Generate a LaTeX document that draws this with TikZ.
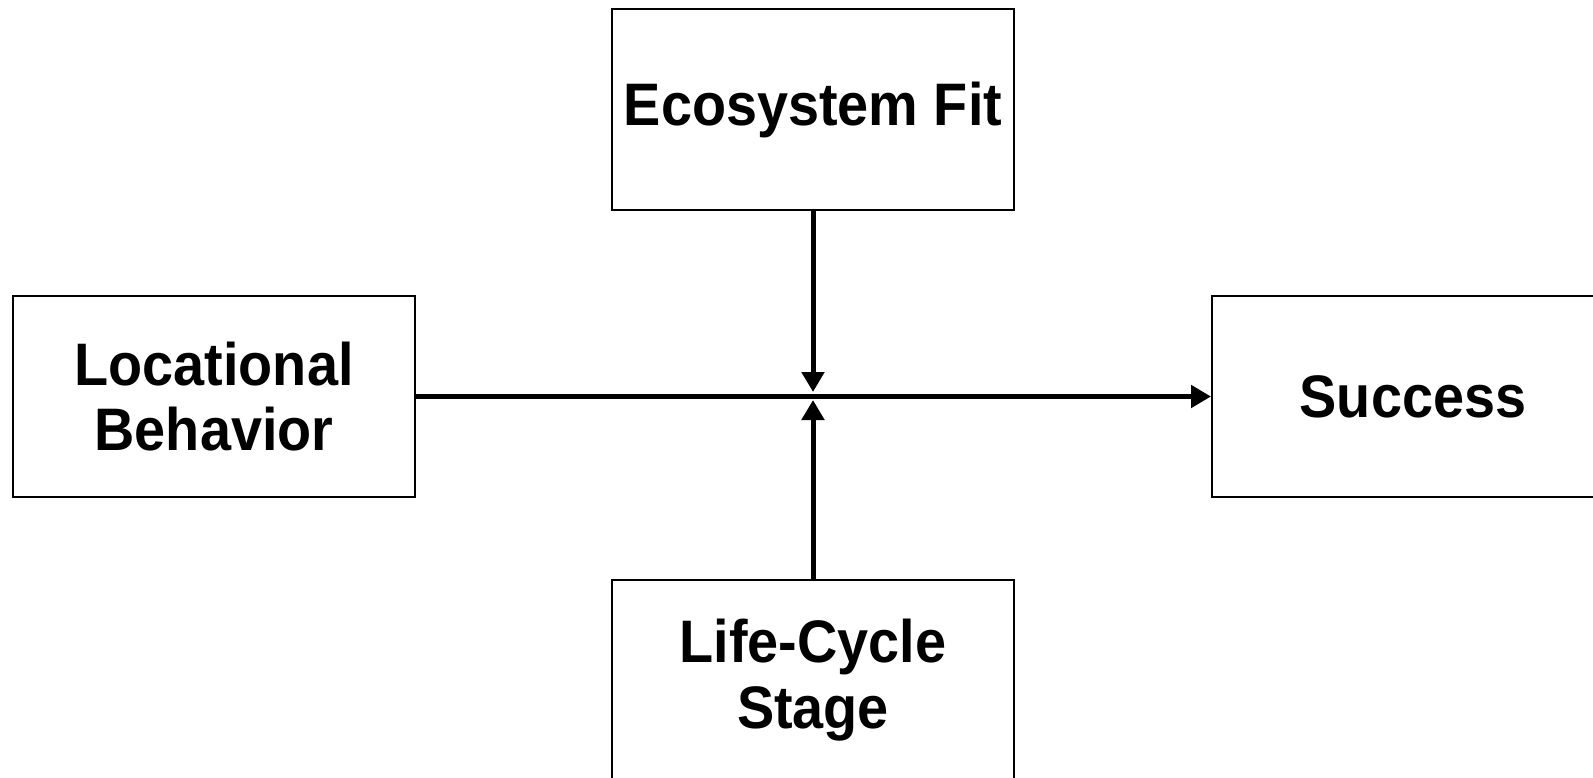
\documentclass[tikz,border=0pt]{standalone}
\usepackage{fontspec}
\setmainfont{Liberation Sans}[FakeStretch=0.93]
\usetikzlibrary{arrows.meta}

\tikzset{every picture/.style={line width=0.75pt}}
\tikzset{
  factorbox/.style={draw, line width=1.5pt, inner sep=0pt, align=center,
    minimum width=301.5pt, minimum height=150.75pt,
    font=\bfseries\fontsize{45}{49}\selectfont},
  link/.style={line width=3.75pt, -{Triangle[width=16.5pt,length=15pt]}}
}

\begin{document}
\begin{tikzpicture}[x=0.75pt,y=0.75pt,yscale=-1,xscale=1]
\useasboundingbox (0,0) rectangle (1593,778);
\clip (0,0) rectangle (1593,778);

%Shape: Rectangle [Ecosystem Fit]
\node [factorbox] (eco) at (813,109.5) {Ecosystem Fit};
%Shape: Rectangle [Locational Behavior]
\node [factorbox] (loc) at (214,396.5) {Locational\\Behavior};
%Shape: Rectangle [Success]
\node [factorbox] (succ) at (1413,396.5) {Success};
%Shape: Rectangle [Life-Cycle Stage]
\node [factorbox, minimum height=150pt] (life) at (813,680) {Life-Cycle\\Stage};

%Meeting points of the arrows
\coordinate (hubtop) at (813,392);
\coordinate (hubbot) at (813,400);

%Straight Lines
\draw [link] (loc) -- (succ);
\draw [link] (eco) -- (hubtop);
\draw [link] (life) -- (hubbot);

\end{tikzpicture}
\end{document}
